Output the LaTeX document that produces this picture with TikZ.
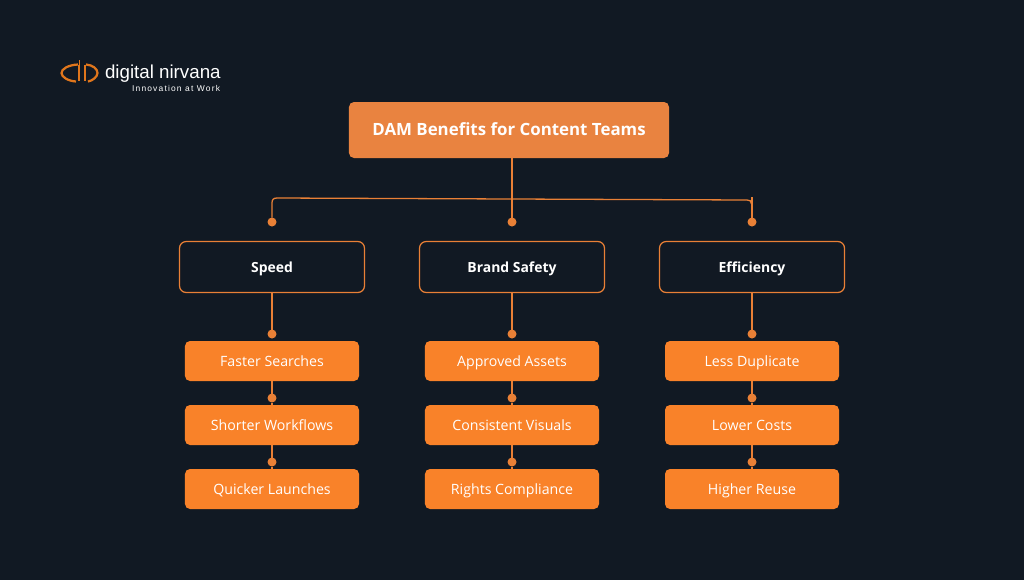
\documentclass[tikz,border=0pt]{standalone}
\usepackage{fontspec}
\setmainfont{Open Sans}
\newfontfamily\logofont{Liberation Sans}
\definecolor{bgdark}{HTML}{111923}
\definecolor{lineorange}{HTML}{E98036}
\definecolor{logoorange}{HTML}{E0761C}
\definecolor{topfill}{HTML}{E98340}
\definecolor{leaffill}{HTML}{F98229}
\tikzset{
	topbox/.style={fill=topfill,rounded corners=.15cm,minimum width=9.6cm,minimum height=1.68cm,text=white,text height=.88em,text depth=0pt,font=\fontsize{14.4}{16}\selectfont\bfseries},
	midbox/.style={draw=lineorange,line width=1.05pt,fill=bgdark,rounded corners=.2cm,minimum width=5.55cm,minimum height=1.53cm,text=white,text height=.88em,text depth=0pt,font=\fontsize{11.9}{13}\selectfont\bfseries},
	leafbox/.style={fill=leaffill,rounded corners=.15cm,minimum width=5.22cm,minimum height=1.2cm,text=white,text height=.88em,text depth=0pt,font=\fontsize{12.1}{14}\selectfont},
	dot/.style={circle,fill=lineorange,inner sep=0,minimum size=.27cm},
	link/.style={draw=lineorange,line width=1.1pt},
}
\begin{document}
\begin{tikzpicture}[x=.03cm,y=-.03cm,every node/.append style={inner sep=0,outer sep=0}]
		\fill[bgdark](0,0) rectangle (1024,580);
		\useasboundingbox (0,0) rectangle (1024,580);
		% logo
		\draw[logoorange,line width=1.9pt](78,64.5)..controls (68,65) and (61.5,69) .. (61.5,73)..controls (61.5,77) and (68,81) .. (76,81.5);
		\draw[logoorange,line width=1pt](79,64.5)--(79,81);
		\draw[logoorange,line width=.7pt](79.5,60)--(79.5,67);
		\draw[logoorange,line width=1.9pt](86,64.5)..controls (93,65) and (97.5,69) .. (97.5,73)..controls (97.5,77) and (92,81) .. (88,81.5);
		\draw[logoorange,line width=1pt](85,64.5)--(85,81);
		\node[anchor=west,text=white,font=\logofont\fontsize{16}{18}\selectfont] (brand) at (105,73.5) {digital nirvana};
		\node[anchor=east,text=white,font=\logofont\fontsize{7.2}{8}\selectfont\addfontfeature{LetterSpace=14}] (motto) at (220,88.5) {Innovation at Work};
		% boxes
		\node[topbox] (top) at (509,130) {DAM Benefits for Content Teams};
		\node[midbox] (speed) at (272,267) {Speed};
		\node[midbox] (safety) at (512,267) {Brand Safety};
		\node[midbox] (effic) at (752,267) {Efficiency};
		\node[leafbox] (faster) at (272,361) {Faster Searches};
		\node[leafbox] (shorter) at (272,425) {Shorter Workflows};
		\node[leafbox] (quicker) at (272,489) {Quicker Launches};
		\node[leafbox] (approved) at (512,361) {Approved Assets};
		\node[leafbox] (consistent) at (512,425) {Consistent Visuals};
		\node[leafbox] (rights) at (512,489) {Rights Compliance};
		\node[leafbox] (duplicate) at (752,361) {Less Duplicate};
		\node[leafbox] (costs) at (752,425) {Lower Costs};
		\node[leafbox] (reuse) at (752,489) {Higher Reuse};
		% dots above the boxes
		\node[dot] (d1) at (272,222) {};
		\node[dot] (d2) at (512,222) {};
		\node[dot] (d3) at (752,222) {};
		\foreach \x/\n in {272/speed,512/safety,752/effic}{
			\node[dot] (\n1) at (\x,334) {};
			\node[dot] (\n2) at (\x,398) {};
			\node[dot] (\n3) at (\x,462) {};
		}
		\coordinate (T) at (512,158);
		\coordinate (R) at (752,197);
		% connectors
		\draw[link](T)--(d2);
		\draw[link](d1)--(272,203)..controls (272,199.5) and (273.5,198) .. (277,198)--(747,200)..controls (750,200) and (751.5,201) .. (751.5,204);
		\draw[link](R)--(d3);
		\draw[link](speed)--(speed1);
		\draw[link](safety)--(safety1);
		\draw[link](effic)--(effic1);
		\draw[link](faster)--(speed2);
		\draw[link](shorter)--(speed2);
		\draw[link](shorter)--(speed3);
		\draw[link](quicker)--(speed3);
		\draw[link](approved)--(safety2);
		\draw[link](consistent)--(safety2);
		\draw[link](consistent)--(safety3);
		\draw[link](rights)--(safety3);
		\draw[link](duplicate)--(effic2);
		\draw[link](costs)--(effic2);
		\draw[link](costs)--(effic3);
		\draw[link](reuse)--(effic3);
	\end{tikzpicture}
\end{document}
